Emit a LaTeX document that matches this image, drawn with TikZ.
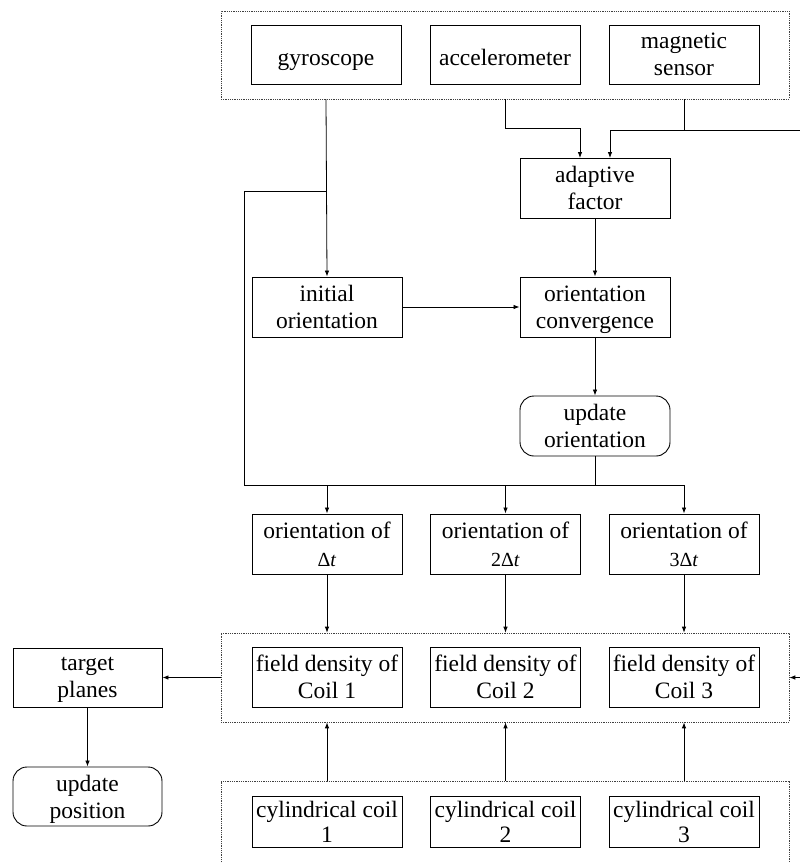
\documentclass[tikz,border=0pt]{standalone}
\usepackage{fontspec}
\setmainfont{Liberation Serif}
\usetikzlibrary{arrows.meta}
\begin{document}
\begin{tikzpicture}[x=1pt,y=-1pt,
  box/.style={draw, line width=0.9pt, minimum width=150pt, minimum height=60pt, align=center, inner sep=0pt, text depth=0pt, font=\fontsize{23.5}{27}\selectfont, execute at begin node={\rule{0pt}{21pt}}},
  rbox/.style={box, rounded corners=14pt},
  dotbox/.style={draw=black!75, line width=0.7pt, dash pattern=on 1pt off 0.8pt, inner sep=0pt},
  line/.style={line width=0.8pt},
  arr/.style={line, -{Latex[length=6pt,width=4.5pt]}}
]
\useasboundingbox (0,0) rectangle (800,863);
\clip (0,0) rectangle (800,863);
\newcommand{\dtsize}{\fontsize{20}{24}\selectfont}

% top sensor group
\node[dotbox, minimum width=568pt, minimum height=88pt] (topbox) at (505,55) {};
\node[box, minimum height=59pt] (gyro) at (326,54.5) {gyroscope};
\node[box, minimum height=59pt] (acc) at (505,54.5) {accelerometer};
\node[box, minimum height=59pt] (mag) at (684,54.5) {magnetic\\sensor};

% middle
\node[box] (adapt) at (595,188) {adaptive\\factor};
\node[box] (init) at (327,307) {initial\\orientation};
\node[box] (conv) at (595,307) {orientation\\convergence};
\node[rbox] (upo) at (595,426) {update\\orientation};

% orientation of
\node[box] (o1) at (327,544) {orientation of\\[1pt]{\dtsize Δ\textit{t}}};
\node[box] (o2) at (505.5,544) {orientation of\\[1pt]{\dtsize 2Δ\textit{t}}};
\node[box] (o3) at (684,544) {orientation of\\[1pt]{\dtsize 3Δ\textit{t}}};

% field density group
\node[dotbox, minimum width=568pt, minimum height=89pt] (fieldbox) at (505,677.5) {};
\node[box] (f1) at (327,677) {field density of\\Coil 1};
\node[box] (f2) at (505.5,677) {field density of\\Coil 2};
\node[box] (f3) at (684,677) {field density of\\Coil 3};

% left column
\node[box, minimum width=149pt, minimum height=59pt] (target) at (87.5,677.5) {target\\planes};
\node[rbox, minimum width=149pt, minimum height=59pt] (upp) at (87.5,796.5) {update\\position};

% bottom coil group
\node[dotbox, minimum width=568pt, minimum height=100pt] (botbox) at (505,831) {};
\node[box, minimum height=51pt, font=\fontsize{23.5}{25}\selectfont] (c1) at (327,822) {cylindrical coil\\1};
\node[box, minimum height=51pt, font=\fontsize{23.5}{25}\selectfont] (c2) at (505.5,822) {cylindrical coil\\2};
\node[box, minimum height=51pt, font=\fontsize{23.5}{25}\selectfont] (c3) at (684,822) {cylindrical coil\\3};

% coordinates
\coordinate (gbr) at (326,191);
\coordinate (busL) at (244,485);
\coordinate (rightTop) at (800,130);
\coordinate (rightMid) at (800,677.5);

% gyroscope to initial orientation
\draw[arr] (gyro |- topbox.south) -- (init.north);
% accelerometer to adaptive factor
\draw[arr] (acc |- topbox.south) -- (505,128) -- (580,128) -- (580,158);
% magnetic sensor and right-edge feed to adaptive factor
\draw[line] (mag |- topbox.south) -- (684,130);
\draw[arr] (rightTop) -- (610,130) -- (610,158);
% adaptive -> convergence
\draw[arr] (adapt) -- (conv);
% initial -> convergence
\draw[arr] (init) -- (conv);
% convergence -> update orientation
\draw[arr] (conv) -- (upo);
% update orientation down to bus
\draw[line] (upo.south) -- (upo.south |- busL);
% gyro branch to bus
\draw[line] (gbr) -- (gbr -| busL) -- (busL) -- (o3.north |- busL);
\draw[arr] (o1.north |- busL) -- (o1.north);
\draw[arr] (o2.north |- busL) -- (o2.north);
\draw[arr] (o3.north |- busL) -- (o3.north);
% orientation -> field group
\draw[arr] (o1.south) -- (o1.south |- fieldbox.north);
\draw[arr] (o2.south) -- (o2.south |- fieldbox.north);
\draw[arr] (o3.south) -- (o3.south |- fieldbox.north);
% right feed into field group
\draw[arr] (rightMid) -- (fieldbox.east);
% field group -> target planes
\draw[arr] (fieldbox.west) -- (target.east);
% target -> update position
\draw[arr] (target) -- (upp);
% coils -> field group
\draw[arr] (c1 |- botbox.north) -- (c1 |- fieldbox.south);
\draw[arr] (c2 |- botbox.north) -- (c2 |- fieldbox.south);
\draw[arr] (c3 |- botbox.north) -- (c3 |- fieldbox.south);
\end{tikzpicture}
\end{document}
